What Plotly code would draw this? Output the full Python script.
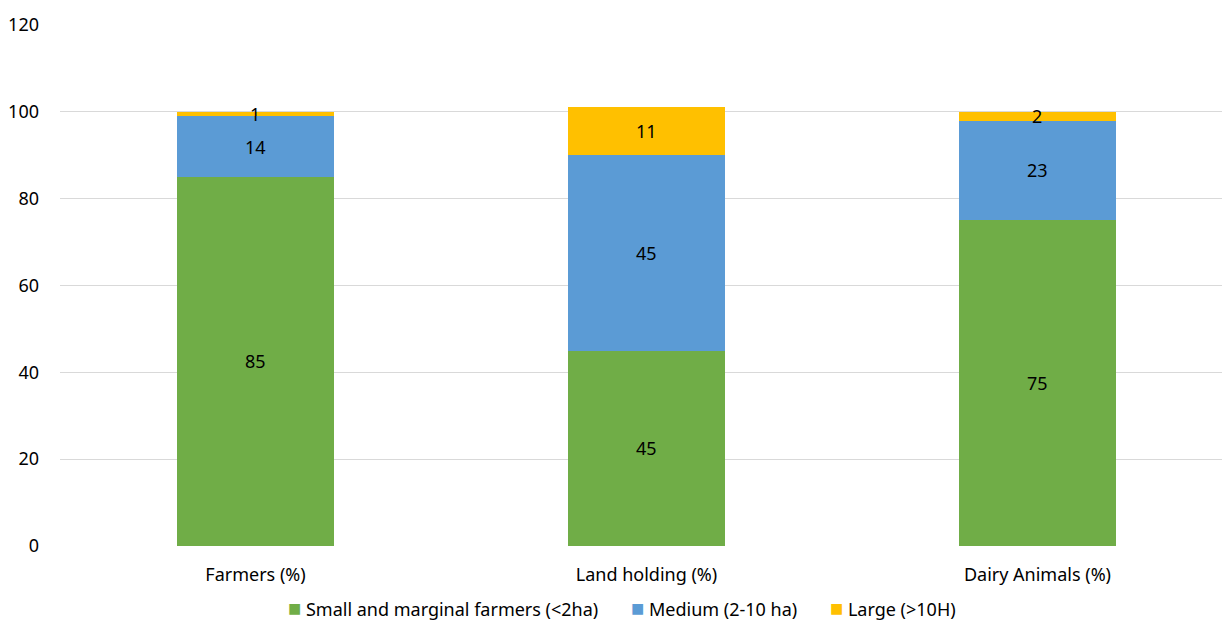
import plotly.graph_objects as go

categories = ["Farmers (%)", "Land holding (%)", "Dairy Animals (%)"]
small = [85, 45, 75]
medium = [14, 45, 23]
large = [1, 11, 2]

series = [
    ("Small and marginal farmers (<2ha)", small, "#70AD47"),
    ("Medium (2-10 ha)", medium, "#5B9BD5"),
    ("Large (>10H)", large, "#FFC000"),
]

font_family = "Noto Sans, Open Sans, sans-serif"
FS = 18

fig = go.Figure()
base = [0] * len(categories)
annotations = []
for name, vals, color in series:
    fig.add_trace(go.Bar(
        name=name, x=categories, y=vals, marker=dict(color=color, line=dict(width=0)),
        width=0.4, showlegend=False,
    ))
    for i, v in enumerate(vals):
        annotations.append(dict(
            x=categories[i], y=base[i] + v / 2, text=str(v), showarrow=False,
            font=dict(size=FS, color="#000000", family=font_family),
            xref="x", yref="y",
        ))
        base[i] += v

# Legend row built from the series names and colours
legend_parts = [
    f'<span style="color:{color};font-size:22px">■</span>&nbsp;{name}' for name, _, color in series
]
annotations.append(dict(
    xref="paper", yref="paper", x=0.484, y=-0.118, xanchor="center", yanchor="middle",
    text="&nbsp;&nbsp;&nbsp;&nbsp;&nbsp;&nbsp;&nbsp;".join(legend_parts),
    showarrow=False, font=dict(size=FS, color="#000000", family=font_family),
))

fig.update_layout(
    barmode="stack",
    width=1222, height=623,
    margin=dict(l=60, r=0, t=25, b=77, autoexpand=False),
    plot_bgcolor="white", paper_bgcolor="white",
    font=dict(family=font_family, size=FS, color="#000000"),
    annotations=annotations,
    showlegend=False,
    xaxis=dict(
        range=[-0.5, 2.472], showgrid=False, showline=False, zeroline=False,
        ticks="", ticklabelstandoff=16, tickfont=dict(size=FS), automargin=False,
    ),
    yaxis=dict(
        range=[0, 120], dtick=20, showgrid=True, gridcolor="#d9d9d9", gridwidth=1,
        zeroline=False, showline=False, ticks="", ticklabelstandoff=20,
        tickfont=dict(size=FS), automargin=False,
    ),
)

fig.write_html("out.html")
